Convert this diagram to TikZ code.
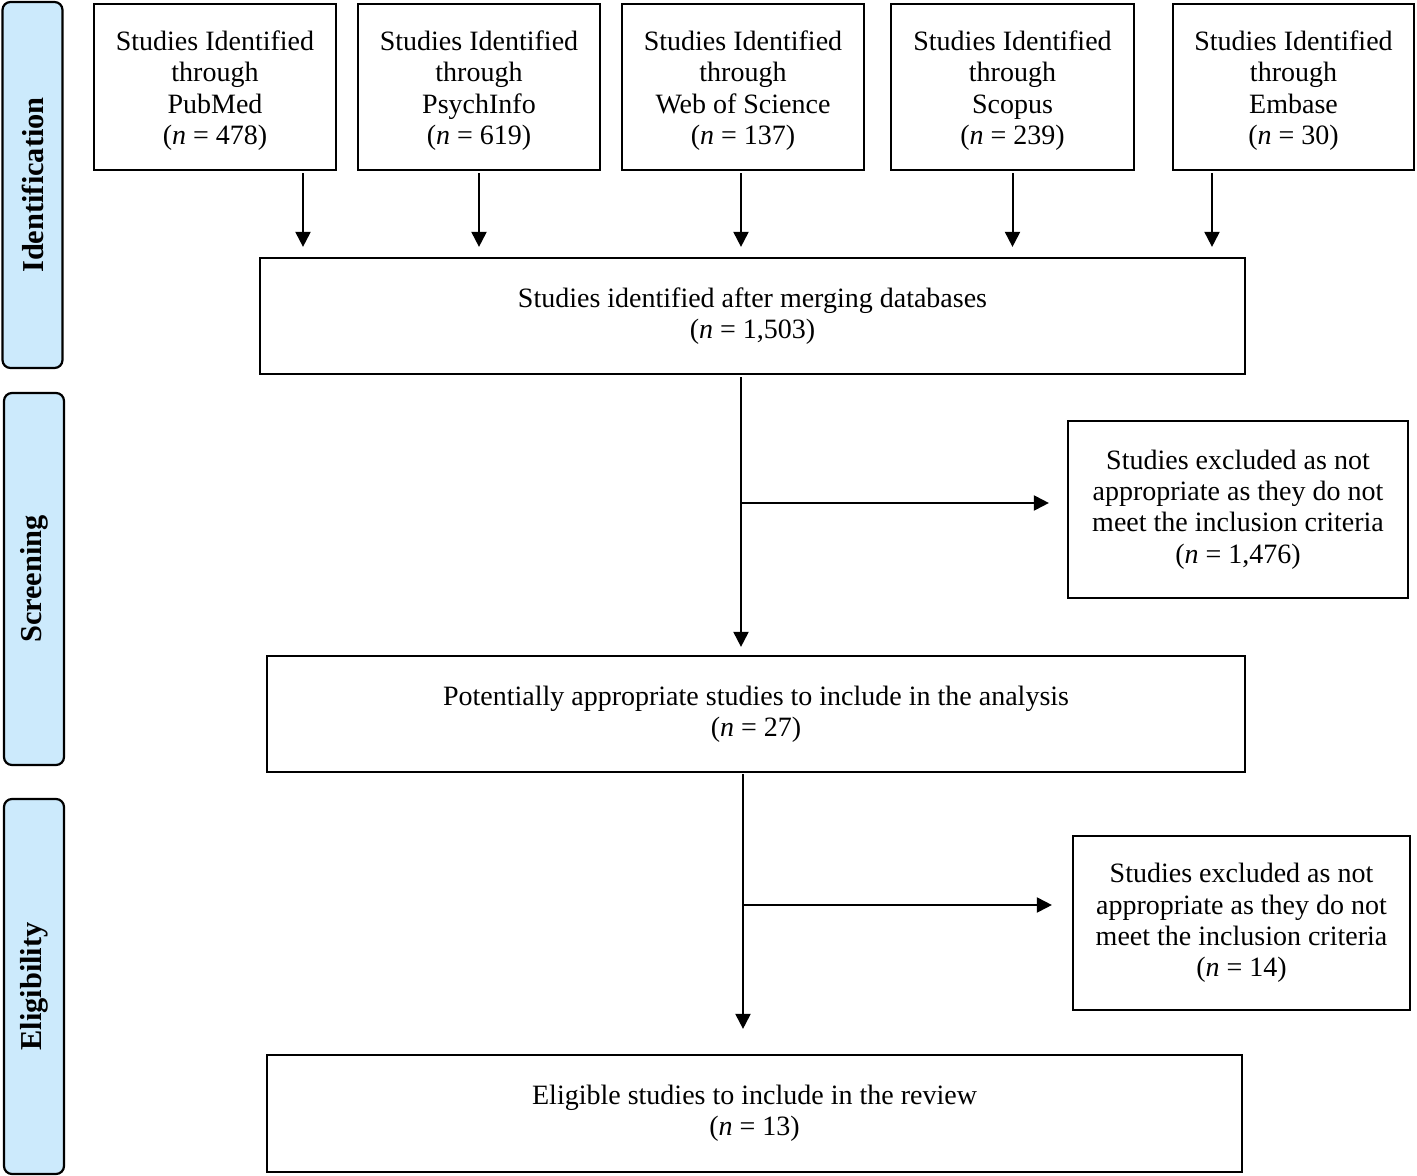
\documentclass[tikz,border=0pt]{standalone}
\usepackage{fontspec}
\setmainfont{Liberation Serif}
\usetikzlibrary{positioning}
\usetikzlibrary{arrows.meta}
\definecolor{phaseblue}{RGB}{204,234,252}
\newcommand{\dbstrut}{\rule{0pt}{13.5pt}}

\tikzset{
  box/.style={draw, line width=1.1pt, align=center, inner sep=2pt, font=\fontsize{14}{15.7}\selectfont},
  phase/.style={draw, line width=1.1pt, rounded corners=4pt, fill=phaseblue, rotate=90, minimum height=30pt, font=\fontsize{15.2}{16}\selectfont\bfseries},
  flow/.style={-{Triangle[length=7.5pt,width=7.5pt]}, line width=1pt},
}

\begin{document}
\begin{tikzpicture}[x=0.5pt,y=-0.5pt]
	\useasboundingbox (0,0) rectangle (1417,1176);

	% phases
	\node[phase, minimum width=183pt] (ident) at (32.5,185) {Identification};
	\node[phase, minimum width=186pt] (screen) at (34,579) {Screening};
	\node[phase, minimum width=187.5pt] (elig) at (34,986.5) {Eligibility};

	% databases
	\node[box, minimum width=121pt, minimum height=83pt] (pubmed) at (215,87) {\dbstrut Studies Identified\\through\\PubMed\\(\textit{n} = 478)};
	\node[box, minimum width=121pt, minimum height=83pt] (psych) at (479,87) {\dbstrut Studies Identified\\through\\PsychInfo\\(\textit{n} = 619)};
	\node[box, minimum width=121pt, minimum height=83pt] (wos) at (743,87) {\dbstrut Studies Identified\\through\\Web of Science\\(\textit{n} = 137)};
	\node[box, minimum width=121.5pt, minimum height=83pt] (scopus) at (1012.5,87) {\dbstrut Studies Identified\\through\\Scopus\\(\textit{n} = 239)};
	\node[box, minimum width=120.5pt, minimum height=83pt] (embase) at (1293.5,87) {\dbstrut Studies Identified\\through\\Embase\\(\textit{n} = 30)};

	% main flow
	\node[box, minimum width=492.5pt, minimum height=58pt] (merged) at (752.5,316) {Studies identified after merging databases\\(\textit{n} = 1,503)};
	\node[box, minimum width=489pt, minimum height=58pt] (potential) at (756,714) {Potentially appropriate studies to include in the analysis\\(\textit{n} = 27)};
	\node[box, minimum width=487.5pt, minimum height=58.5pt] (eligible) at (754.5,1113.5) {Eligible studies to include in the review\\(\textit{n} = 13)};

	% exclusions
	\node[box, minimum width=170pt, minimum height=88.5pt] (excl1) at (1238,509.5) {Studies excluded as not\\appropriate as they do not\\meet the inclusion criteria\\(\textit{n} = 1,476)};
	\node[box, minimum width=168.5pt, minimum height=87pt] (excl2) at (1241.5,923) {Studies excluded as not\\appropriate as they do not\\meet the inclusion criteria\\(\textit{n} = 14)};

	% database arrows
	\draw[flow, shorten <=1pt, shorten >=5pt] ([xshift=44pt]pubmed.south) -- ([xshift=44pt]pubmed.south |- merged.north);
	\draw[flow, shorten <=1pt, shorten >=5pt] (psych.south) -- (psych.south |- merged.north);
	\draw[flow, shorten <=1pt, shorten >=5pt] ([xshift=-1pt]wos.south) -- ([xshift=-1pt]wos.south |- merged.north);
	\draw[flow, shorten <=1pt, shorten >=5pt] (scopus.south) -- (scopus.south |- merged.north);
	\draw[flow, shorten <=1pt, shorten >=5pt] ([xshift=-40.75pt]embase.south) -- ([xshift=-40.75pt]embase.south |- merged.north);

	% screening
	\draw[flow, shorten <=1pt, shorten >=4pt] ([xshift=-5.75pt]merged.south) -- ([xshift=-5.75pt]merged.south |- potential.north);
	\coordinate (branch1) at (742,503);
	\draw[flow, shorten >=9pt] (branch1) -- (branch1 -| excl1.west);

	% eligibility
	\draw[flow, shorten <=0.5pt, shorten >=12.5pt] ([xshift=-6.5pt]potential.south) -- ([xshift=-6.5pt]potential.south |- eligible.north);
	\coordinate (branch2) at (744,905);
	\draw[flow, shorten >=10pt] (branch2) -- (branch2 -| excl2.west);
\end{tikzpicture}
\end{document}
